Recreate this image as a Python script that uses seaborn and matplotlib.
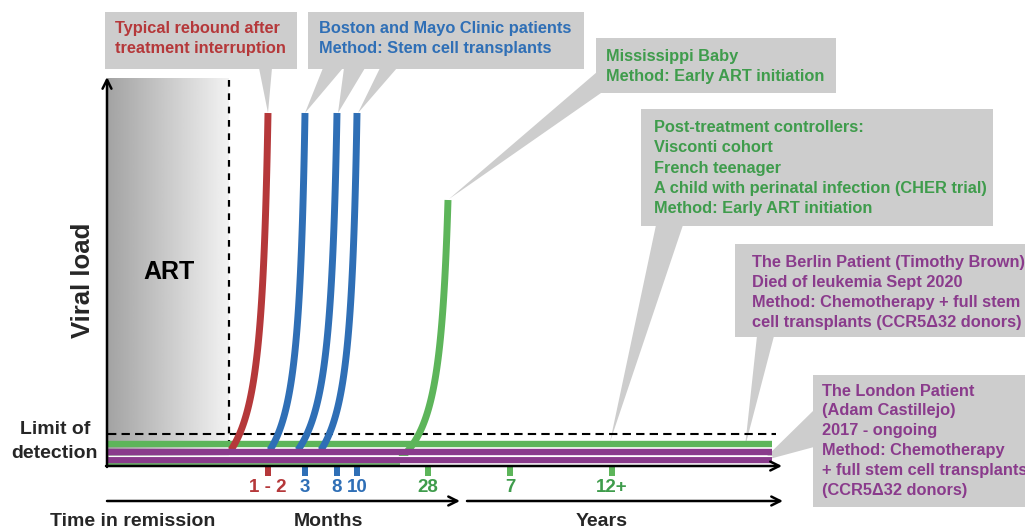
import numpy as np
import pandas as pd
import matplotlib
matplotlib.use("Agg")
import matplotlib.pyplot as plt
from matplotlib.patches import Rectangle, Polygon
import seaborn as sns

# ---------------- data ----------------
# rebound events on the "months" part of the timeline
event_labels = ['1 - 2', '3', '8', '10', '28']
event_groups = ['rebound', 'stem', 'stem', 'stem', 'early']
event_tick_x = [268, 305, 337, 357, 428]
event_peak_x = [268, 305, 337, 357, 448]
event_onset_x = [231, 270, 298, 321, 401]
event_peak_y = [113, 113, 113, 113, 200]
event_base_y = [450, 450, 450, 450, 458]

# durations on the "years" part of the timeline
year_labels = ['7', '12+']
year_groups = ['early', 'early']
year_tick_x = [510, 612]

# remission lines that stay below the limit of detection
remission_groups = ['early', 'berlin', 'london']
remission_y = [444, 452, 460]
timeline_start, timeline_end = 108, 772

limit_of_detection_y = 434
art_end_x = 229

colors = {'rebound': '#b5383a', 'stem': '#2f6fb6', 'early': '#5db55a',
          'berlin': '#8a3b8c', 'london': '#8a3b8c'}
text_colors = {'rebound': '#b5383a', 'stem': '#2f6fb6', 'early': '#3f9c4c',
               'berlin': '#8a3b8c', 'london': '#8a3b8c'}

callout_texts = {
    'rebound': ["Typical rebound after", "treatment interruption"],
    'stem': ["Boston and Mayo Clinic patients", "Method: Stem cell transplants"],
    'baby': ["Mississippi Baby", "Method: Early ART initiation"],
    'ptc': ["Post-treatment controllers:", "Visconti cohort", "French teenager",
            "A child with perinatal infection (CHER trial)",
            "Method: Early ART initiation"],
    'berlin': ["The Berlin Patient (Timothy Brown)", "Died of leukemia Sept 2020",
               "Method: Chemotherapy + full stem",
               "cell transplants (CCR5\u039432 donors)"],
    'london': ["The London Patient", "(Adam Castillejo)", "2017 - ongoing",
               "Method: Chemotherapy", "+ full stem cell transplants",
               "(CCR5\u039432 donors)"],
}

# ---------------- figure ----------------
sns.set_theme(style="white")
plt.rcParams['font.family'] = ['Liberation Sans', 'DejaVu Sans']
plt.rcParams['font.weight'] = 'bold'

W, H = 1025, 530
fig = plt.figure(figsize=(W / 100, H / 100), dpi=100)
ax = fig.add_axes([0, 0, 1, 1])
ax.set_xlim(0, W)
ax.set_ylim(H, 0)
ax.axis('off')

# ART gradient panel
grad = np.linspace(0.64, 0.95, 256).reshape(1, -1)
ax.imshow(grad, cmap='gray', vmin=0, vmax=1, aspect='auto',
          extent=[108, art_end_x, 466, 78], zorder=0)
ax.text((108 + art_end_x) / 2, 272, "ART", fontsize=18, fontweight='bold',
        ha='center', va='center', color='black', zorder=5)
ax.plot([art_end_x, art_end_x], [80, 444], color='black', lw=1.6,
        ls=(0, (3, 3)), zorder=3)

# limit of detection
ax.plot([108, 776], [limit_of_detection_y] * 2, color='black', lw=1.5,
        ls=(0, (4, 2.5)), zorder=3)

# green remission line (below curves)
df_green = pd.DataFrame({'x': [timeline_start, timeline_end],
                         'y': [remission_y[0]] * 2})
sns.lineplot(data=df_green, x='x', y='y', color=colors['early'], lw=4.6,
             ax=ax, zorder=4, legend=False, sort=False)

# rebound curves
u = np.linspace(0, 1, 120)
shape = (1 / (u + 0.2) - 1 / 1.2) / (1 / 0.2 - 1 / 1.2)
rows = []
for i, (g, px, ox, py, by) in enumerate(zip(event_groups, event_peak_x,
                                            event_onset_x, event_peak_y,
                                            event_base_y)):
    xs = px - (px - ox) * shape
    ys = by - u * (by - py)
    rows.append(pd.DataFrame({'x': xs, 'y': ys, 'curve': i, 'group': g}))
curves = pd.concat(rows, ignore_index=True)
sns.lineplot(data=curves, x='x', y='y', hue='group', units='curve',
             estimator=None, sort=False, palette=colors, lw=5.0,
             ax=ax, legend=False, zorder=5)

# thin green under purple
ax.plot([timeline_start, 400], [464, 464], color=colors['early'], lw=1.2, zorder=5)

# purple remission lines
df_purple = pd.DataFrame({
    'x': [timeline_start, timeline_end] * 2,
    'y': [remission_y[1]] * 2 + [remission_y[2]] * 2,
    'who': ['berlin'] * 2 + ['london'] * 2})
sns.lineplot(data=df_purple, x='x', y='y', hue='who', units='who',
             estimator=None, sort=False, palette=colors, lw=4.6, ax=ax,
             legend=False, zorder=6)
ax.plot([timeline_start, timeline_end], [456, 456], color='white', lw=0.8, zorder=6)
for ln in ax.lines:
    ln.set_solid_capstyle('butt')

# axes arrows
arrow = dict(arrowstyle='->', lw=1.8, color='black', mutation_scale=16,
             shrinkA=0, shrinkB=0)
ax.annotate('', xy=(107, 77), xytext=(107, 467), arrowprops=arrow, zorder=8)
ax.annotate('', xy=(782, 466), xytext=(106, 466), arrowprops=arrow, zorder=8)
ax.annotate('', xy=(460, 501), xytext=(107, 501), arrowprops=arrow, zorder=8)
ax.annotate('', xy=(783, 501), xytext=(467, 501), arrowprops=arrow, zorder=8)

# ticks and labels
for lab, g, tx in list(zip(event_labels, event_groups, event_tick_x)) + \
        list(zip(year_labels, year_groups, year_tick_x)):
    ax.add_patch(Rectangle((tx - 3, 467), 6, 9, color=colors[g], lw=0, zorder=7))
    ax.text(tx, 488, lab, color=text_colors[g], fontsize=13.5, fontweight='bold',
            ha='center', va='center')

ax.text(133, 522, "Time in remission", fontsize=14, ha='center', va='center')
ax.text(328, 522, "Months", fontsize=14, ha='center', va='center')
ax.text(602, 522, "Years", fontsize=14, ha='center', va='center')
ax.text(83, 280, "Viral load", fontsize=18.5, rotation=90, ha='center', va='center')
ax.text(55, 430, "Limit of", fontsize=14, ha='center', va='center')
ax.text(55, 453, "detection", fontsize=14, ha='center', va='center')

# callouts
box_gray = '#cdcdcd'


def callout(x0, y0, x1, y1, pointers, lines, color, tx, ty):
    ax.add_patch(Rectangle((x0, y0), x1 - x0, y1 - y0, color=box_gray, lw=0, zorder=1))
    for p in pointers:
        ax.add_patch(Polygon(p, closed=True, color=box_gray, lw=0, zorder=1))
    for k, s in enumerate(lines):
        ax.text(tx, ty + 20 * k, s, color=color, fontsize=11.8, fontweight='bold',
                ha='left', va='center', zorder=2)


callout(105, 12, 297, 69, [[(259, 68), (272, 68), (268, 113)]],
        callout_texts['rebound'], text_colors['rebound'], 115, 29)
callout(308, 12, 584, 69,
        [[(323, 68), (343, 68), (305, 113)],
         [(344, 68), (365, 68), (338, 113)],
         [(380, 68), (397, 68), (358, 113)]],
        callout_texts['stem'], text_colors['stem'], 319, 28)
callout(596, 38, 836, 93, [[(597, 72), (601, 93), (449, 199)]],
        callout_texts['baby'], text_colors['early'], 606, 56)
callout(641, 109, 993, 226, [[(656, 225), (683, 225), (610, 442)]],
        callout_texts['ptc'], text_colors['early'], 654, 128)
callout(735, 244, 1030, 337, [[(757, 336), (774, 336), (745, 447)]],
        callout_texts['berlin'], text_colors['berlin'], 752, 263)
callout(813, 375, 1030, 507, [[(814, 410), (814, 447), (762, 461)]],
        callout_texts['london'], text_colors['london'], 822, 391)

fig.savefig("out.png", dpi=100)
